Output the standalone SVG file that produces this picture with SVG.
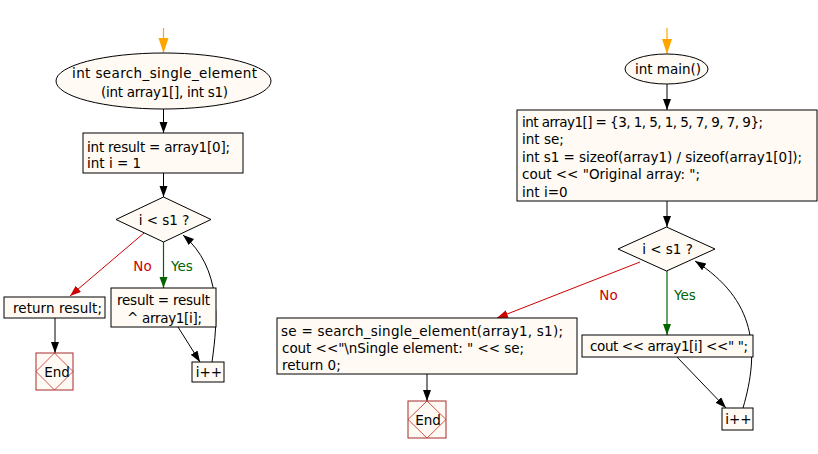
<svg xmlns="http://www.w3.org/2000/svg" width="818" height="454" viewBox="0 0 818 454">
<defs>
<style>
text{font-family:"DejaVu Sans","Liberation Sans",sans-serif;font-size:13.5px;fill:#000}
.c{text-anchor:middle}
.n{fill:#fffaf3;stroke:#000;stroke-width:1}
.e{fill:#fffaf3;stroke:#a52a2a;stroke-width:1}
.ed{fill:none;stroke:#c62828;stroke-width:0.8}
.l{fill:none;stroke:#000;stroke-width:1}
.r{fill:none;stroke:#cc0000;stroke-width:1}
.g{fill:none;stroke:#006400;stroke-width:1.2}
.o{fill:none;stroke:#ffa500;stroke-width:1.2}
.no{fill:#cc0000}
.yes{fill:#006400}
</style>
<marker id="ab" markerUnits="userSpaceOnUse" markerWidth="12" markerHeight="10" refX="11" refY="4" orient="auto"><path d="M0,0 L11,4 L0,8 Z" fill="#000"/></marker>
<marker id="ar" markerUnits="userSpaceOnUse" markerWidth="12" markerHeight="10" refX="11" refY="4" orient="auto"><path d="M0,0 L11,4 L0,8 Z" fill="#cc0000"/></marker>
<marker id="ag" markerUnits="userSpaceOnUse" markerWidth="12" markerHeight="10" refX="11" refY="4" orient="auto"><path d="M0,0 L11,4 L0,8 Z" fill="#006400"/></marker>
<marker id="ao" markerUnits="userSpaceOnUse" markerWidth="16" markerHeight="12" refX="15" refY="5" orient="auto"><path d="M0,0 L15,5 L0,10 Z" fill="#ffa500"/></marker>
</defs>
<rect width="818" height="454" fill="#fff"/>
<g id="connectors">
<line class="o" x1="163.5" y1="28" x2="163.5" y2="53" marker-end="url(#ao)"/>
<line class="l" x1="163.5" y1="109" x2="163.5" y2="133" marker-end="url(#ab)"/>
<line class="l" x1="163.5" y1="173" x2="163.5" y2="197" marker-end="url(#ab)"/>
<line class="r" x1="144" y1="233" x2="70" y2="296" marker-end="url(#ar)"/>
<line class="g" x1="163.5" y1="242" x2="163.5" y2="288" marker-end="url(#ag)"/>
<line class="l" x1="55" y1="318" x2="55" y2="353" marker-end="url(#ab)"/>
<line class="l" x1="178" y1="327" x2="200" y2="362" marker-end="url(#ab)"/>
<path class="l" d="M212,362 C218,320 222,268 183,235" marker-end="url(#ab)"/>
<line class="o" x1="667" y1="28" x2="667" y2="54" marker-end="url(#ao)"/>
<line class="l" x1="667" y1="84" x2="667" y2="110" marker-end="url(#ab)"/>
<line class="l" x1="667" y1="201" x2="667" y2="227" marker-end="url(#ab)"/>
<line class="r" x1="640" y1="262" x2="497" y2="318" marker-end="url(#ar)"/>
<line class="g" x1="667" y1="271" x2="667" y2="335" marker-end="url(#ag)"/>
<line class="l" x1="427" y1="374" x2="427" y2="401" marker-end="url(#ab)"/>
<line class="l" x1="677" y1="357" x2="726" y2="408" marker-end="url(#ab)"/>
<path class="l" d="M743,408 C760,350 756,300 695,261" marker-end="url(#ab)"/>
<text class="c no" x="142.5" y="271">No</text>
<text class="c yes" x="182" y="271">Yes</text>
<text class="c no" x="608.5" y="300">No</text>
<text class="c yes" x="685" y="300">Yes</text>
</g>
<g id="n_search">
<ellipse class="n" cx="163.5" cy="81" rx="107.5" ry="28"/>
<text x="72" y="78" textLength="185">int search_single_element</text>
<text x="101" y="96.5" textLength="127">(int array1[], int s1)</text>
</g>
<g id="n_init">
<rect class="n" x="83" y="133" width="160" height="40"/>
<text x="87" y="151.5" textLength="143">int result = array1[0];</text>
<text x="87" y="168">int i = 1</text>
</g>
<g id="n_cond1">
<polygon class="n" points="163.5,197 211,219.5 163.5,242 116,219.5"/>
<text class="c" x="164" y="224.5">i &lt; s1 ?</text>
</g>
<g id="n_ret">
<rect class="n" x="4" y="297" width="101" height="21"/>
<text x="13" y="312.5" textLength="89">return result;</text>
</g>
<g id="n_end1">
<rect class="e" x="36" y="353" width="37" height="37"/>
<polygon class="ed" points="54.5,353 73,371.5 54.5,390 36,371.5"/>
<text class="c" x="57" y="376.5">End</text>
</g>
<g id="n_xor">
<rect class="n" x="111" y="288" width="105" height="39"/>
<text x="117" y="305" textLength="93">result = result</text>
<text x="127" y="322.5" textLength="75">^ array1[i];</text>
</g>
<g id="n_inc1">
<rect class="n" x="192" y="362" width="32" height="20"/>
<text class="c" x="209" y="376.5">i++</text>
</g>
<g id="n_main">
<ellipse class="n" cx="666.5" cy="69" rx="41.5" ry="15"/>
<text class="c" x="668" y="74">int main()</text>
</g>
<g id="n_decl">
<rect class="n" x="517" y="110" width="300" height="91"/>
<text x="522" y="126.5" textLength="241">int array1[] = {3, 1, 5, 1, 5, 7, 9, 7, 9};</text>
<text x="522" y="143.5">int se;</text>
<text x="522" y="161.5" textLength="280">int s1 = sizeof(array1) / sizeof(array1[0]);</text>
<text x="522" y="179" textLength="178">cout &lt;&lt; "Original array: ";</text>
<text x="522" y="196.5">int i=0</text>
</g>
<g id="n_cond2">
<polygon class="n" points="666.5,227 715,249 666.5,271 618,249"/>
<text class="c" x="667.5" y="254">i &lt; s1 ?</text>
</g>
<g id="n_call">
<rect class="n" x="277" y="318" width="300" height="56"/>
<text x="281" y="336" textLength="282">se = search_single_element(array1, s1);</text>
<text x="282" y="352.5" textLength="242">cout &lt;&lt;"\nSingle element: " &lt;&lt; se;</text>
<text x="282" y="369.5">return 0;</text>
</g>
<g id="n_end2">
<rect class="e" x="408" y="401" width="38" height="37"/>
<polygon class="ed" points="427,401 446,419.5 427,438 408,419.5"/>
<text class="c" x="428" y="424.5">End</text>
</g>
<g id="n_cout">
<rect class="n" x="582" y="335" width="171" height="22"/>
<text x="590" y="351" textLength="158">cout &lt;&lt; array1[i] &lt;&lt;" ";</text>
</g>
<g id="n_inc2">
<rect class="n" x="722" y="408" width="31" height="22"/>
<text class="c" x="738.5" y="424">i++</text>
</g>
</svg>
